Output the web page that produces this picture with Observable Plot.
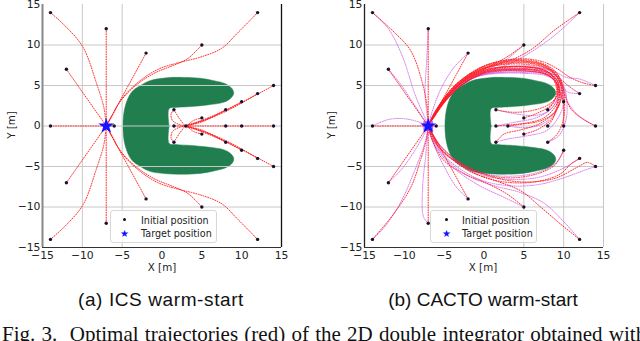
<!DOCTYPE html>
<html><head><meta charset="utf-8">
<script src="https://cdn.jsdelivr.net/npm/d3@7"></script>
<script src="https://cdn.jsdelivr.net/npm/@observablehq/plot@0.6"></script>
<style>
html,body{margin:0;padding:0;background:#fff;}
body{width:640px;height:341px;overflow:hidden;position:relative;font-family:"DejaVu Sans",sans-serif;color:#222;}
.panel{position:absolute;top:0;}
.lab{position:absolute;font-size:10.3px;white-space:nowrap;transform:translate(-50%,-50%);}
.ylab{position:absolute;font-size:10.3px;white-space:nowrap;transform:translate(-50%,-50%) rotate(-90deg);}
.cap{position:absolute;font-family:"Liberation Sans",Arial,sans-serif;font-size:19px;white-space:nowrap;transform:translate(-50%,-50%);color:#111;}
.fig{position:absolute;left:2px;top:324px;font-family:"Liberation Serif","Times New Roman",serif;font-size:21px;line-height:21px;word-spacing:1px;white-space:nowrap;color:#111;}
.legend{position:absolute;width:105px;height:31px;border:1px solid #d8d8d8;border-radius:3px;background:rgba(255,255,255,0.85);font-size:9.6px;}
.legend .mk{position:absolute;width:3px;height:3px;border-radius:50%;background:#111;}
.legend .st{position:absolute;color:#1010ff;font-size:10px;transform:translate(-50%,-50%);}
.legend .tx{position:absolute;transform:translateY(-50%);white-space:nowrap;}
</style></head><body>
<div id="pa" class="panel" style="left:0"></div>
<div id="pb" class="panel" style="left:320px"></div>
<div class="ylab" style="left:11px;top:125px">Y [m]</div>
<div class="ylab" style="left:331px;top:125px">Y [m]</div>
<div class="lab" style="left:162px;top:267px">X [m]</div>
<div class="lab" style="left:483px;top:267px">X [m]</div>
<div class="legend" style="left:110px;top:210px">
  <div class="mk" style="left:12px;top:7px"></div><div class="tx" style="left:30px;top:8.5px">Initial position</div>
  <div class="st" style="left:13.5px;top:22px">★</div><div class="tx" style="left:30px;top:22px">Target position</div>
</div>
<div class="legend" style="left:430px;top:210px">
  <div class="mk" style="left:14px;top:7px"></div><div class="tx" style="left:31px;top:8.5px">Initial position</div>
  <div class="st" style="left:15.5px;top:22px">★</div><div class="tx" style="left:31px;top:22px">Target position</div>
</div>
<div class="cap" style="left:161px;top:300px;letter-spacing:0.6px">(a) ICS warm-start</div>
<div class="cap" style="left:483px;top:300px">(b) CACTO warm-start</div>
<div class="fig" id="fig">Fig. 3.&nbsp; Optimal trajectories (red) of the 2D double integrator obtained with</div>
<script>
// ---------- data ----------
const axisTicks = [-15, -10, -5, 0, 5, 10, 15];
const gridYTicks = [-10, -5, 0, 5, 10];
const gridXLeft = [-10, -5];
const gridXRight = [5, 10, 15];

const targetX = [-7];
const targetY = [0];

const initX = [-14, -7, -2, 5, 12, -12, 14, 12, 10, 8, 5, 1.5, -14, -6, 1.5, 3, 8, 10, 14, 1.5, 5, 8, 10, 12, 14, -12, -2, 5, 12, -14, -7];
const initY = [14, 12, 9, 10, 14, 7, 5, 4, 3, 2, 1, 2, 0, 0, 0, 0, 0, 0, 0, -2, -1, -2, -3, -4, -5, -7, -9, -10, -14, -14, -12];

// C-shaped obstacle outline
const obstacleX = [0.9, 0.9, 1.9, 3.6, 5.7, 7.8, 8.6, 9.0, 8.8, 8.0, 6.5, 4.8, 2.7, 0.6, -1.5, -2.7, -3.8, -4.6, -4.9,
                   -4.6, -3.8, -2.7, -1.5, 0.6, 2.7, 4.8, 6.5, 8.0, 8.8, 9.0, 8.6, 7.8, 5.7, 3.6, 1.9, 0.9, 0.9];
const obstacleY = [0, 2.15, 2.3, 2.4, 2.6, 2.95, 3.4, 4.0, 4.6, 5.2, 5.6, 5.9, 6.0, 5.95, 5.6, 5.0, 4.2, 2.5, 0,
                   -2.5, -4.2, -5.0, -5.6, -5.9, -5.95, -5.85, -5.55, -5.15, -4.6, -4.0, -3.4, -2.95, -2.6, -2.4, -2.3, -2.15, 0];

// (a) ICS warm-start trajectories
const icsPaths = [
 [[-14,14],[-12,12.2],[-9.9,9.7],[-8.2,5.2],[-7.3,2.3],[-7,0]],
 [[-14,-14],[-12,-12.2],[-9.9,-9.7],[-8.2,-5.2],[-7.3,-2.3],[-7,0]],
 [[-7,12],[-7,0]],
 [[-7,-12],[-7,0]],
 [[-2,9],[-7,0]],
 [[-2,-9],[-7,0]],
 [[-12,7],[-7,0]],
 [[-12,-7],[-7,0]],
 [[-14,0],[-6,0]],
 [[5,10],[3.2,8.3],[1.2,7.4],[-1,6.5],[-3.3,5],[-5.2,3.1],[-6.4,1],[-7,0]],
 [[5,-10],[3.2,-8.3],[1.2,-7.4],[-1,-6.5],[-3.3,-5],[-5.2,-3.1],[-6.4,-1],[-7,0]],
 [[12,14],[9.5,11.5],[7.5,9.6],[4.8,8.5],[2,7.8],[-0.5,7],[-3,5.4],[-5,3.4],[-6.4,1.1],[-7,0]],
 [[12,-14],[9.5,-11.5],[7.5,-9.6],[4.8,-8.5],[2,-7.8],[-0.5,-7],[-3,-5.4],[-5,-3.4],[-6.4,-1.1],[-7,0]],
 [[14,5],[9,2.4],[5,0.7],[2.9,0]],
 [[14,-5],[9,-2.4],[5,-0.7],[2.9,0]],
 [[12,4],[8,1.8],[5,0.6],[2.9,0]],
 [[12,-4],[8,-1.8],[5,-0.6],[2.9,0]],
 [[10,3],[6,1],[2.9,0]],
 [[10,-3],[6,-1],[2.9,0]],
 [[8,2],[5,0.5],[2.9,0]],
 [[8,-2],[5,-0.5],[2.9,0]],
 [[5,1],[4,0.7],[3.3,0.2],[2.9,0]],
 [[5,-1],[4,-0.7],[3.3,-0.2],[2.9,0]],
 [[1.5,2],[1.15,1.5],[1.3,0.7],[2.1,0.2],[2.9,0]],
 [[1.5,-2],[1.15,-1.5],[1.3,-0.7],[2.1,-0.2],[2.9,0]],
 [[1.5,2],[2.2,0.9],[2.9,0]],
 [[1.5,-2],[2.2,-0.9],[2.9,0]],
 [[14,0],[1.5,0]]
];

// (b) CACTO warm-start: optimal trajectories (red)
const cactoRedPaths = [
 [[-14,14],[-11.3,11.6],[-9.2,9.3],[-7.7,5.2],[-7.1,2],[-7,0]],
 [[-7,12],[-7,0]],
 [[-2,9],[-7,0]],
 [[-12,7],[-7,0]],
 [[-14,0],[-6,0]],
 [[5,10],[3,8.6],[0.8,7.4],[-1.5,6.2],[-3.8,4.5],[-5.6,2.4],[-6.6,0.8],[-7,0]],
 [[12,14],[8.8,11.8],[6.3,9.7],[3.8,8.3],[1,7.4],[-1.5,6.3],[-3.8,4.6],[-5.6,2.5],[-6.6,0.8],[-7,0]],
 [[14,5],[12.5,5.3],[10.8,6],[9.3,7],[7.5,7.9],[5,8.3],[2.5,8.1],[0.3,7.5],[-1.8,6.4],[-3.9,4.8],[-5.8,2.2],[-7,0]],
 [[12,4],[10.8,4.8],[9.6,5.8],[8.3,7],[6.5,7.7],[4,7.9],[1.5,7.6],[-0.8,6.8],[-3,5.3],[-5.3,2.8],[-7,0]],
 [[10,3],[9.5,4.3],[9,5.6],[7.8,6.8],[5.5,7.3],[3,7.3],[0.5,7],[-1.8,6],[-4,4.3],[-5.8,2],[-7,0]],
 [[14,0],[12.5,0.8],[11,2],[10.2,3.6],[9.8,5],[9,6.4],[7.3,7.6],[5,8],[2.5,7.9],[0.2,7.3],[-2,6.2],[-4.1,4.5],[-5.9,2],[-7,0]],
 [[10,0],[10,1.5],[9.9,3.5],[9.6,5.2],[8.6,6.7],[6.5,7.6],[4,7.8],[1.5,7.5],[-0.8,6.8],[-3,5.4],[-5.2,3],[-7,0]],
 [[8,0],[8.7,1],[9.2,2.8],[9.2,4.8],[8.3,6.5],[6.3,7.2],[3.5,7.3],[1,7],[-1.3,6.2],[-3.6,4.7],[-5.6,2.4],[-7,0]],
 [[8,2],[8.8,3],[9.1,4.6],[8.5,6],[6.8,6.8],[4,7],[1.2,6.9],[-1.2,6],[-3.5,4.5],[-5.6,2.2],[-7,0]],
 [[5,1],[6.5,1.5],[8.3,2.5],[9.2,4],[8.9,5.6],[7.4,6.5],[5,6.8],[2.3,6.8],[-0.3,6.4],[-2.7,5.1],[-4.9,3],[-7,0]],
 [[5,-1],[6.8,-0.4],[8.6,1],[9.4,3],[9.3,5],[8,6.3],[5.5,6.8],[2.5,6.9],[-0.2,6.5],[-2.6,5.2],[-4.8,3.1],[-7,0]],
 [[3,0],[5,0.3],[7.5,1],[9,2.5],[9.5,4.2],[9,5.9],[7.5,6.9],[5,7.3],[2.3,7.3],[-0.2,6.8],[-2.6,5.5],[-4.9,3.2],[-7,0]],
 [[1.5,0],[4,0.2],[7,0.6],[9,1.8],[9.7,3.8],[9.3,5.8],[7.8,7.1],[5.3,7.6],[2.6,7.6],[0,7.1],[-2.3,5.9],[-4.6,3.7],[-7,0]],
 [[1.5,2],[3.5,1.7],[6,1.9],[8.2,2.7],[9.3,4],[9.2,5.6],[7.7,6.7],[5.2,7.1],[2.5,7.1],[0,6.7],[-2.4,5.4],[-4.7,3.3],[-7,0]],
 [[1.5,-2],[2.5,-1],[4.5,-0.5],[7,0.3],[8.9,1.8],[9.8,3.8],[9.5,5.9],[8,7.3],[5.5,8],[2.8,8],[0.1,7.4],[-2.1,6.2],[-4.3,4.3],[-6,2],[-7,0]],
 [[8,-2],[9.2,-1],[10,1],[10.1,3.3],[9.8,5.3],[8.8,6.9],[6.8,7.9],[4.2,8.2],[1.5,7.9],[-0.9,7],[-3.1,5.5],[-5.2,3.2],[-7,0]],
 [[14,-5],[13,-4.5],[11.7,-5.1],[8.8,-6.5],[4.6,-6.9],[0.4,-6.1],[-2.9,-4.7],[-5.4,-3],[-7,0]],
 [[12,-4],[10.9,-4.7],[9.6,-5.9],[7,-6.8],[3.5,-7],[0.2,-6.4],[-3,-4.8],[-5.5,-2.7],[-7,0]],
 [[10,-3],[9.6,-3.8],[8.8,-4.9],[6.7,-5.9],[3.5,-6.4],[0.3,-6],[-3,-4.5],[-5.4,-2.5],[-7,0]],
 [[5,-10],[2.9,-8.4],[0.4,-7.1],[-2.5,-5.9],[-5,-4.3],[-6.4,-2],[-7,0]],
 [[12,-14],[9.6,-12.1],[7.1,-10],[4.6,-8],[1.3,-6.7],[-1.8,-5.6],[-4.4,-3.8],[-6.3,-1.8],[-7,0]],
 [[-2,-9],[-7,0]],
 [[-12,-7],[-7,0]],
 [[-7,-12],[-7,0]],
 [[-14,-14],[-11.3,-10.8],[-9.2,-7.6],[-8,-4.3],[-7.2,-1.5],[-7,0]]
];

// (b) CACTO warm-start: warm-start trajectories (violet)
const cactoVioletPaths = [
 [[-14,14],[-12,12],[-10.2,8.5],[-8.7,4],[-7.5,1.2],[-7,0]],
 [[-7,12],[-7.2,8],[-7.4,4],[-7.1,1],[-7,0]],
 [[-2,9],[-3.8,7.2],[-5.4,4.6],[-6.5,1.8],[-7,0]],
 [[-12,7],[-10.5,5.2],[-9,3],[-7.8,1.2],[-7,0]],
 [[-14,0],[-12,0.8],[-10,0.9],[-8.2,0.5],[-7,0]],
 [[5,10],[2.5,8],[0,6.8],[-2.8,5.2],[-5,3],[-6.5,0.8],[-7,0]],
 [[12,14],[9,11.3],[6,9.2],[3,7.6],[0,6.6],[-3,5],[-5.2,2.8],[-7,0]],
 [[14,5],[12,5.8],[10.3,6],[8.7,6.8],[6.5,7.2],[3.5,7],[0.5,6.7],[-2.2,5.7],[-4.5,3.7],[-6.3,1.5],[-7,0]],
 [[12,4],[10.5,4.2],[9.8,5],[9,6.2],[7,6.8],[4,6.9],[1,6.6],[-1.8,5.7],[-4.2,3.8],[-6.2,1.4],[-7,0]],
 [[14,0],[12,1.2],[10.6,2.8],[10,4.6],[9.2,6],[7.5,6.8],[4.5,7],[1.5,6.8],[-1.2,6],[-3.7,4.3],[-5.8,2],[-7,0]],
 [[1.5,0],[4,0.5],[6.5,1],[8.5,2.2],[9.4,4],[9,5.5],[7.5,6.4],[5,6.6],[2,6.6],[-0.8,6.2],[-3.3,4.8],[-5.5,2.6],[-7,0]],
 [[3,0],[5.5,-0.2],[7.8,0.5],[9.2,2.2],[9.6,4.2],[9,5.8],[7,6.6],[4,6.7],[1,6.5],[-1.8,5.8],[-4.1,4.2],[-6,1.8],[-7,0]],
 [[1.5,2],[4,1.5],[6.5,1.3],[8.3,2],[9.2,3.5],[9.1,5.3],[7.8,6.2],[5,6.5],[2,6.5],[-0.8,6.1],[-3.3,4.7],[-5.5,2.4],[-7,0]],
 [[1.5,-2],[3,-1.6],[5.5,-1.2],[7.8,-0.6],[9.3,1],[10,3],[9.6,5.2],[8,6.5],[5.5,7],[2.5,7],[-0.5,6.5],[-3,5.1],[-5.2,2.9],[-7,0]],
 [[8,-2],[9.4,-1.2],[10.3,0.8],[10.4,3],[10,5],[8.8,6.5],[6.5,7.3],[3.5,7.4],[0.5,7],[-2.2,5.9],[-4.6,3.8],[-6.4,1.4],[-7,0]],
 [[14,-5],[12.5,-5.5],[10,-6.4],[7,-7.2],[3.5,-7.4],[0,-6.8],[-3,-5.3],[-5.4,-3.2],[-7,0]],
 [[12,-4],[10,-5.2],[7,-6.3],[3.5,-6.6],[0,-6.1],[-3.2,-4.6],[-5.6,-2.4],[-7,0]],
 [[10,-3],[9,-4.6],[6.5,-5.8],[3,-6.2],[-0.3,-5.8],[-3.4,-4.3],[-5.7,-2.2],[-7,0]],
 [[5,-10],[2.5,-8.8],[-0.5,-7.4],[-3.3,-5.6],[-5.5,-3.4],[-6.7,-1.2],[-7,0]],
 [[12,-14],[10,-11.8],[7.5,-9.5],[4.5,-8.2],[1,-7.3],[-2.3,-6],[-5,-3.8],[-6.6,-1.4],[-7,0]],
 [[-2,-9],[-3.5,-7.5],[-5,-5],[-6.3,-2.3],[-7,0]],
 [[-12,-7],[-10.3,-5.3],[-8.8,-3.2],[-7.6,-1.2],[-7,0]],
 [[-14,-14],[-12.5,-12.5],[-10.5,-9.5],[-8.7,-5.5],[-7.4,-2],[-7,0]],
 [[-7,-12],[-7.6,-11.2],[-7.7,-7.5],[-7.3,-3.5],[-7,0]]
];

// ---------- tables built from the arrays ----------
const toRows = (paths) => paths.flatMap((p, i) => p.map(([x, y]) => ({id: i, x, y})));
const initRows = initX.map((x, i) => ({x, y: initY[i]}));
const targetRows = targetX.map((x, i) => ({x, y: targetY[i]}));
const obstacleRows = obstacleX.map((x, i) => ({x, y: obstacleY[i]}));

const GREEN = "#217f4f";
const RED = "#ff1a1a";

function panel({ml, gridX, gridOver, redPaths, violetPaths, rightSpine, leftSpine}) {
  const obstacle = Plot.line(obstacleRows, {x: "x", y: "y", fill: GREEN, stroke: GREEN, strokeWidth: 0.5, curve: "catmull-rom"});
  const grids = [
    Plot.gridY(gridYTicks, {stroke: "#c8c8c8", strokeOpacity: 1, strokeWidth: 1}),
    Plot.gridX(gridX, {stroke: "#c8c8c8", strokeOpacity: 1, strokeWidth: 1})
  ];
  const marks = [];
  if (gridOver) { marks.push(obstacle, ...grids); } else { marks.push(...grids, obstacle); }
  if (violetPaths) {
    marks.push(Plot.line(toRows(violetPaths), {x: "x", y: "y", z: "id", stroke: "#c955e8", strokeOpacity: 0.75, strokeWidth: 1, strokeDasharray: "1 1.2", curve: "catmull-rom"}));
  }
  marks.push(Plot.line(toRows(redPaths), {x: "x", y: "y", z: "id", stroke: RED, strokeOpacity: 0.9, strokeWidth: 1, strokeDasharray: "1 1.5", curve: "catmull-rom"}));
  if (violetPaths) {
    marks.push(Plot.dot(targetRows, {x: "x", y: "y", r: 5.5, fill: "#c43ce0", fillOpacity: 0.8, symbol: "square"}));
  }
  marks.push(
    Plot.dot(initRows, {x: "x", y: "y", r: 1.7, fill: "#1c0f2e"}),
    Plot.dot(targetRows, {x: "x", y: "y", r: 5, fill: "#1414ff", symbol: "star"}),
    Plot.ruleX([-15], {stroke: leftSpine.color, strokeWidth: leftSpine.width}),
    Plot.ruleY([-15], {stroke: "#333", strokeWidth: 1.2}),
    Plot.axisX(axisTicks, {tickSize: 0, tickPadding: 4, label: null}),
    Plot.axisY(axisTicks, {tickSize: 0, tickPadding: 2, label: null})
  );
  if (rightSpine) marks.push(Plot.ruleX([15], {stroke: "#111", strokeWidth: 1.3}));
  return Plot.plot({
    width: 320, height: 275,
    marginLeft: ml, marginRight: 320 - ml - 239, marginTop: 4, marginBottom: 28,
    x: {domain: [-15, 15]},
    y: {domain: [-15, 15]},
    style: {fontFamily: '"DejaVu Sans", sans-serif', fontSize: "10.8px", color: "#222", background: "transparent", overflow: "visible"},
    marks
  });
}

document.getElementById("pa").append(panel({
  ml: 42, gridX: gridXLeft, gridOver: true, redPaths: icsPaths, violetPaths: null,
  rightSpine: true, leftSpine: {color: "#888", width: 2}
}));
document.getElementById("pb").append(panel({
  ml: 44, gridX: gridXRight, gridOver: false, redPaths: cactoRedPaths, violetPaths: cactoVioletPaths,
  rightSpine: false, leftSpine: {color: "#222", width: 1.3}
}));
</script>
</body></html>
